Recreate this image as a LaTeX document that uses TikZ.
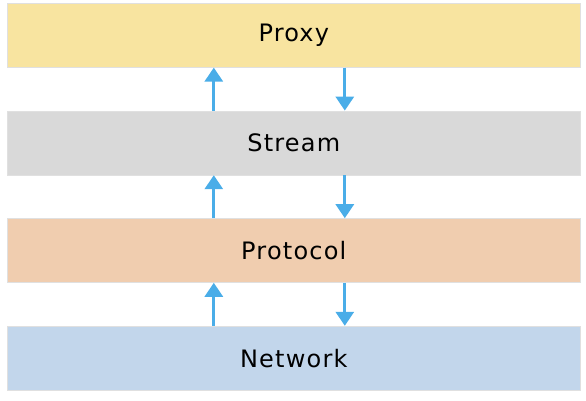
\documentclass[tikz,border=0pt]{standalone}
\usepackage{fontspec}
\setmainfont{DejaVu Sans}
\newfontfamily\layerfont[LetterSpace=5]{DejaVu Sans}
\usetikzlibrary{positioning,arrows.meta}
\definecolor{proxyyellow}{HTML}{F8E4A0}
\definecolor{streamgray}{HTML}{D9D9D9}
\definecolor{protocolpeach}{HTML}{F0CDAF}
\definecolor{networkblue}{HTML}{C2D6EB}
\definecolor{arrowblue}{HTML}{4AADE8}
\tikzstyle{layer}=[draw=black!12,line width=0.6pt,minimum width=573pt,minimum height=64pt,inner sep=0pt,font=\layerfont\fontsize{24}{24}\selectfont]
\tikzstyle{flow}=[line width=3pt,draw=arrowblue,-{Triangle[width=18pt,length=14pt]}]
\begin{document}
\begin{tikzpicture}[node distance=43pt]
	\useasboundingbox (0,0) rectangle (586pt,-400pt);

	\node[layer,fill=proxyyellow,anchor=north west] (proxy) at (7pt,-3pt) {Proxy};
	\node[layer,fill=streamgray,below=of proxy] (stream) {Stream};
	\node[layer,fill=protocolpeach,below=of stream] (protocol) {Protocol};
	\node[layer,fill=networkblue,below=of protocol] (network) {Network};

	% up: lower layer -> upper layer
	\draw[flow] ([xshift=-80pt]stream.north) -- ([xshift=-80pt]proxy.south);
	\draw[flow] ([xshift=-80pt]protocol.north) -- ([xshift=-80pt]stream.south);
	\draw[flow] ([xshift=-80pt]network.north) -- ([xshift=-80pt]protocol.south);
	% down: upper layer -> lower layer
	\draw[flow] ([xshift=51pt]proxy.south) -- ([xshift=51pt]stream.north);
	\draw[flow] ([xshift=51pt]stream.south) -- ([xshift=51pt]protocol.north);
	\draw[flow] ([xshift=51pt]protocol.south) -- ([xshift=51pt]network.north);

\end{tikzpicture}
\end{document}
